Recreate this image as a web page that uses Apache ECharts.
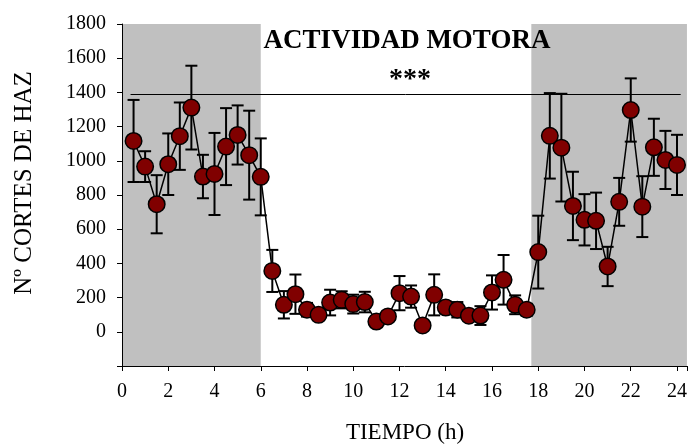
<!DOCTYPE html>
<html><head><meta charset="utf-8">
<script src="https://cdn.jsdelivr.net/npm/echarts@6/dist/echarts.min.js"></script>
<style>html,body{margin:0;padding:0;background:#fff}#c{width:690px;height:446px}</style>
</head><body><div id="c"></div>
<script>
const hours = [0.5,1,1.5,2,2.5,3,3.5,4,4.5,5,5.5,6,6.5,7,7.5,8,8.5,9,9.5,10,10.5,11,11.5,12,12.5,13,13.5,14,14.5,15,15.5,16,16.5,17,17.5,18,18.5,19,19.5,20,20.5,21,21.5,22,22.5,23,23.5,24];
const means = [1116,966,746,980,1144,1311,908,923,1083,1151,1033,906,356,158,220,129,99,171,187,162,174,60,90,226,206,37,216,142,129,94,95,230,304,158,129,466,1146,1077,736,655,649,382,760,1297,732,1079,1005,976];
const errs = [240,90,170,180,197,245,127,240,225,173,260,225,123,80,115,40,30,75,50,55,60,20,20,100,65,10,120,35,45,25,55,100,145,55,35,213,250,315,200,150,165,115,140,185,178,167,170,176];
const darkPeriods = [[0,6],[17.7,24.43]];
const refLineY = 1390;
const refLineX = [0.37,24.16];
const yTicks = [0,200,400,600,800,1000,1200,1400,1600,1800];

const font = '"Liberation Serif","Times New Roman",serif';
const chart = echarts.init(document.getElementById('c'));
const pts = hours.map((h,i)=>[h,means[i]]);
const errData = hours.map((h,i)=>[h,means[i]-errs[i],means[i]+errs[i]]);
chart.setOption({
  animation:false,
  grid:{left:122,right:2,top:24,bottom:80},
  title:[
    {text:'ACTIVIDAD MOTORA',left:402,top:23,textAlign:'center',textStyle:{fontFamily:font,fontWeight:'bold',fontSize:27,color:'#000'}},
    {text:'***',left:405,top:61,textAlign:'center',textStyle:{fontFamily:font,fontWeight:'bold',fontSize:28,color:'#000'}}
  ],
  graphic:[
    {type:'text',x:24,y:183,rotation:Math.PI/2,
      style:{text:'Nº CORTES DE HAZ',fontFamily:font,fontSize:25,fill:'#000',align:'center',verticalAlign:'middle'}},
    {type:'text',x:405,y:433,
      style:{text:'TIEMPO (h)',fontFamily:font,fontSize:23,fill:'#000',align:'center',verticalAlign:'middle'}}
  ],
  xAxis:{type:'value',min:0,max:24.43,interval:2,z:10,
    axisLine:{onZero:false,lineStyle:{color:'#000',width:1}},
    axisTick:{show:true,length:5,lineStyle:{color:'#000'}},
    axisLabel:{fontFamily:font,fontSize:20,color:'#000',margin:16,
      formatter:v=>(Math.abs(v-Math.round(v))<1e-6&&v<=24)?String(v):''},
    splitLine:{show:false}},
  yAxis:{type:'value',min:-200,max:1800,interval:200,z:10,
    axisLine:{show:true,lineStyle:{color:'#000',width:1}},
    axisTick:{show:true,length:5,lineStyle:{color:'#000'}},
    axisLabel:{fontFamily:font,fontSize:20,color:'#000',margin:16,
      formatter:v=>yTicks.indexOf(v)>=0?String(v):''},
    splitLine:{show:false}},
  series:[
    {type:'line',data:[],silent:true,z:1,
      markArea:{silent:true,itemStyle:{color:'#c0c0c0'},
        data:darkPeriods.map(p=>[{xAxis:p[0],yAxis:-200},{xAxis:p[1],yAxis:1800}])},
      markLine:{silent:true,symbol:'none',label:{show:false},lineStyle:{color:'#000',width:1,type:'solid'},
        data:[[{coord:[refLineX[0],refLineY]},{coord:[refLineX[1],refLineY]}]]}
    },
    {type:'custom',z:3,data:errData,
      renderItem:(params,api)=>{
        const x=api.value(0);
        const lo=api.coord([x,api.value(1)]);
        const hi=api.coord([x,api.value(2)]);
        const w=6;
        const st={stroke:'#000',lineWidth:2};
        return {type:'group',children:[
          {type:'line',shape:{x1:lo[0],y1:lo[1],x2:hi[0],y2:hi[1]},style:st},
          {type:'line',shape:{x1:lo[0]-w,y1:lo[1],x2:lo[0]+w,y2:lo[1]},style:st},
          {type:'line',shape:{x1:hi[0]-w,y1:hi[1],x2:hi[0]+w,y2:hi[1]},style:st}
        ]};
      }},
    {type:'line',z:4,data:pts,symbol:'circle',symbolSize:16.5,
      lineStyle:{color:'#000',width:1.5},
      itemStyle:{color:'#800000',borderColor:'#000',borderWidth:1.5}}
  ]
});
</script></body></html>
